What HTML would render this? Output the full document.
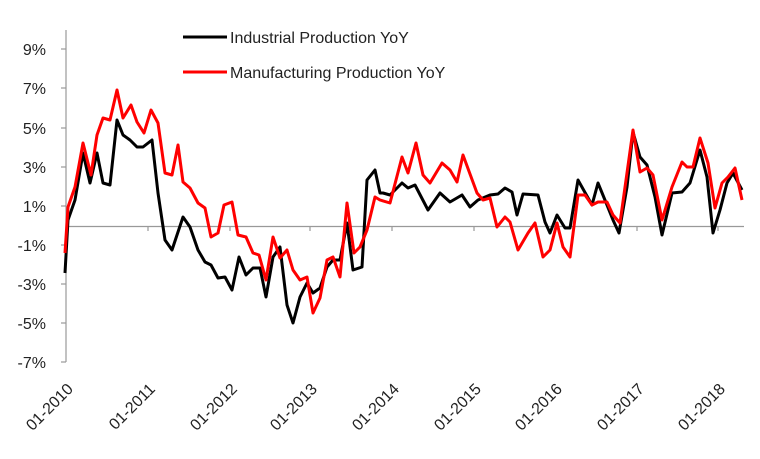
<!DOCTYPE html>
<html><head><meta charset="utf-8"><style>
html,body{margin:0;padding:0;background:#fff;}
svg{display:block;}
text{font-family:"Liberation Sans",sans-serif;fill:#222;}
</style></head><body>
<svg width="760" height="459" viewBox="0 0 760 459" xmlns="http://www.w3.org/2000/svg">
<g stroke="#999" stroke-width="1.2" fill="none">
<line x1="66" y1="30" x2="66" y2="362"/>
<line x1="66" y1="226.5" x2="744" y2="226.5"/>
<line x1="61" y1="49" x2="66" y2="49"/><line x1="61" y1="88" x2="66" y2="88"/><line x1="61" y1="128" x2="66" y2="128"/><line x1="61" y1="167" x2="66" y2="167"/><line x1="61" y1="206" x2="66" y2="206"/><line x1="61" y1="245" x2="66" y2="245"/><line x1="61" y1="284" x2="66" y2="284"/><line x1="61" y1="323" x2="66" y2="323"/><line x1="61" y1="362" x2="66" y2="362"/>
<line x1="148" y1="226" x2="148" y2="231"/><line x1="230" y1="226" x2="230" y2="231"/><line x1="310" y1="226" x2="310" y2="231"/><line x1="392" y1="226" x2="392" y2="231"/><line x1="474" y1="226" x2="474" y2="231"/><line x1="555" y1="226" x2="555" y2="231"/><line x1="637" y1="226" x2="637" y2="231"/><line x1="718" y1="226" x2="718" y2="231"/>
</g>
<g font-size="16" text-anchor="end">
<text x="46" y="55">9%</text><text x="46" y="94">7%</text><text x="46" y="134">5%</text><text x="46" y="173">3%</text><text x="46" y="212">1%</text><text x="46" y="251">-1%</text><text x="46" y="290">-3%</text><text x="46" y="329">-5%</text><text x="46" y="368">-7%</text>
</g>
<g font-size="16" text-anchor="end">
<text transform="translate(74,390) rotate(-45)">01-2010</text>
<text transform="translate(156,390) rotate(-45)">01-2011</text>
<text transform="translate(238,390) rotate(-45)">01-2012</text>
<text transform="translate(318,390) rotate(-45)">01-2013</text>
<text transform="translate(400,390) rotate(-45)">01-2014</text>
<text transform="translate(482,390) rotate(-45)">01-2015</text>
<text transform="translate(563,390) rotate(-45)">01-2016</text>
<text transform="translate(645,390) rotate(-45)">01-2017</text>
<text transform="translate(726,390) rotate(-45)">01-2018</text>
</g>
<polyline fill="none" stroke="#000" stroke-width="3" stroke-linejoin="round" points="65,273 68,220 75,200 83,153 90,183 97,153 103,183 110,185 117,120 123,135 130,140 137,147 143,147 152,140 158,193 165,240 172,250 183,217 190,227 198,250 205,262 211,265 218,278 225,277 232,290 239,257 246,275 253,268 260,268 266,297 273,257 280,247 287,305 293,323 300,297 307,283 313,293 320,288 327,267 333,260 340,260 347,223 353,270 362,267 367,180 375,170 380,193 383,193 390,195 402,183 408,188 415,185 428,210 440,193 450,202 462,195 470,207 478,200 490,195 498,194 505,188 512,192 517,215 523,194 538,195 545,222 550,233 557,215 565,228 570,228 578,180 592,205 598,183 607,205 613,220 619,233 627,187 633,132 640,157 647,165 655,197 662,235 672,193 682,192 690,183 700,150 707,177 713,233 720,210 727,183 733,173 742,190"/>
<polyline fill="none" stroke="#f00" stroke-width="3" stroke-linejoin="round" points="65,253 68,207 75,187 83,143 91,175 97,135 103,118 110,120 117,90 123,118 131,105 137,122 144,133 151,110 158,123 165,173 172,175 178,145 183,182 190,188 198,203 205,208 211,237 218,233 224,205 232,202 238,235 246,237 253,253 259,255 266,280 273,237 280,258 287,250 293,270 300,280 307,277 313,313 320,298 327,260 333,257 340,277 347,203 354,253 360,247 367,230 375,197 380,200 390,203 402,157 408,173 416,143 423,175 430,183 442,163 450,170 457,182 463,155 477,193 483,200 490,198 497,227 505,217 510,222 518,250 528,233 535,223 543,257 550,250 557,223 563,247 570,257 578,195 585,195 592,205 598,202 607,202 613,215 620,223 633,130 640,172 647,168 653,175 662,220 672,187 682,162 687,167 693,167 700,138 708,163 715,208 722,183 728,177 735,168 742,200"/>
<line x1="183" y1="37" x2="227" y2="37" stroke="#000" stroke-width="3"/>
<line x1="183" y1="72" x2="227" y2="72" stroke="#f00" stroke-width="3"/>
<text x="230" y="43" font-size="16">Industrial Production YoY</text>
<text x="230" y="78" font-size="16">Manufacturing Production YoY</text>
</svg>
</body></html>
